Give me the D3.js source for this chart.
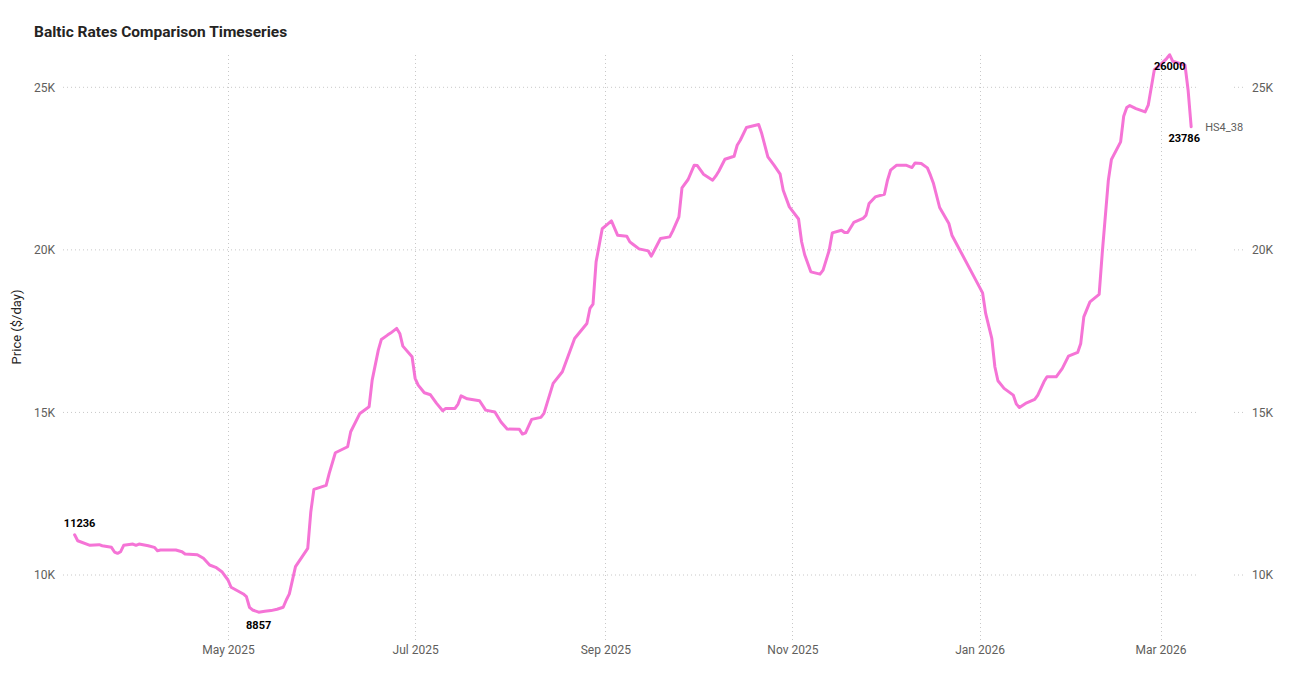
<!DOCTYPE html>
<html><head><meta charset="utf-8">
<script src="https://cdn.jsdelivr.net/npm/d3@7"></script>
<style>
body{margin:0;background:#fff;}
text{font-family:Roboto, "Noto Sans", sans-serif;}
</style>
</head><body>
<svg id="chart" width="1289" height="674"></svg>
<script>
const chartTitle = "Baltic Rates Comparison Timeseries";
const yAxisTitle = "Price ($/day)";
const seriesName = "HS4_38";
const yTickValues = [10000, 15000, 20000, 25000];
const xTickDates = ["2025-05-01","2025-07-01","2025-09-01","2025-11-01","2026-01-01","2026-03-01"];

const dates = [
"2025-03-12","2025-03-13","2025-03-17","2025-03-20","2025-03-21","2025-03-24","2025-03-25","2025-03-26","2025-03-27","2025-03-28",
"2025-03-31","2025-04-01","2025-04-02","2025-04-05","2025-04-07","2025-04-08","2025-04-09","2025-04-14","2025-04-16","2025-04-17",
"2025-04-21","2025-04-23","2025-04-25","2025-04-27","2025-04-29","2025-05-01","2025-05-02","2025-05-06","2025-05-07","2025-05-08",
"2025-05-09","2025-05-11","2025-05-13","2025-05-15","2025-05-17","2025-05-19","2025-05-20","2025-05-21","2025-05-23","2025-05-27",
"2025-05-28","2025-05-29","2025-06-02","2025-06-03","2025-06-05","2025-06-09","2025-06-10","2025-06-13","2025-06-16","2025-06-17",
"2025-06-19","2025-06-20","2025-06-22","2025-06-23","2025-06-25","2025-06-26","2025-06-27","2025-06-30","2025-07-01","2025-07-02",
"2025-07-04","2025-07-06","2025-07-08","2025-07-10","2025-07-11","2025-07-14","2025-07-15","2025-07-16","2025-07-18","2025-07-22",
"2025-07-24","2025-07-27","2025-07-29","2025-07-31","2025-08-04","2025-08-05","2025-08-06","2025-08-08","2025-08-11","2025-08-12",
"2025-08-13","2025-08-15","2025-08-18","2025-08-22","2025-08-26","2025-08-27","2025-08-28","2025-08-29","2025-08-31","2025-09-01",
"2025-09-03","2025-09-05","2025-09-08","2025-09-09","2025-09-10","2025-09-12","2025-09-15","2025-09-16","2025-09-19","2025-09-22",
"2025-09-23","2025-09-25","2025-09-26","2025-09-28","2025-09-30","2025-10-01","2025-10-03","2025-10-06","2025-10-07","2025-10-08",
"2025-10-10","2025-10-13","2025-10-14","2025-10-15","2025-10-17","2025-10-21","2025-10-22","2025-10-24","2025-10-26","2025-10-28",
"2025-10-29","2025-10-31","2025-11-03","2025-11-04","2025-11-05","2025-11-07","2025-11-10","2025-11-11","2025-11-13","2025-11-14",
"2025-11-17","2025-11-18","2025-11-19","2025-11-21","2025-11-24","2025-11-25","2025-11-26","2025-11-28","2025-12-01","2025-12-02",
"2025-12-03","2025-12-05","2025-12-08","2025-12-10","2025-12-11","2025-12-13","2025-12-15","2025-12-16","2025-12-17","2025-12-19",
"2025-12-22","2025-12-23","2026-01-02","2026-01-03","2026-01-05","2026-01-06","2026-01-07","2026-01-09","2026-01-12","2026-01-13",
"2026-01-14","2026-01-16","2026-01-19","2026-01-20","2026-01-22","2026-01-23","2026-01-26","2026-01-28","2026-01-30","2026-02-02",
"2026-02-03","2026-02-04","2026-02-06","2026-02-09","2026-02-10","2026-02-12","2026-02-13","2026-02-16","2026-02-17","2026-02-18",
"2026-02-19","2026-02-21","2026-02-24","2026-02-25","2026-02-27","2026-03-01","2026-03-03","2026-03-04","2026-03-05","2026-03-09",
"2026-03-10","2026-03-11"
];
const values = [
11236,11054,10913,10932,10900,10851,10707,10666,10716,10913,
10953,10913,10953,10900,10851,10747,10768,10768,10716,10646,
10625,10513,10307,10236,10101,9846,9622,9416,9334,9007,
8924,8857,8884,8905,8946,9007,9230,9420,10256,10820,
11946,12634,12757,13126,13760,13944,14405,14970,15174,15994,
16917,17245,17378,17440,17584,17430,17040,16711,16050,15840,
15604,15543,15278,15051,15124,15124,15257,15512,15419,15358,
15072,15011,14703,14488,14479,14334,14374,14786,14848,14970,
15278,15892,16250,17276,17737,18198,18331,19631,20650,20728,
20891,20452,20421,20246,20175,20031,19969,19806,20350,20400,
20584,21014,21906,22164,22604,22594,22327,22143,22266,22419,
22788,22880,23218,23372,23762,23854,23577,22859,22604,22327,
21835,21322,20950,20250,19850,19324,19253,19376,19990,20522,
20605,20533,20533,20842,20965,21066,21426,21629,21712,22143,
22450,22604,22604,22532,22675,22655,22522,22297,22041,21303,
20811,20452,18678,18044,17276,16404,15973,15740,15533,15257,
15154,15278,15401,15533,15942,16096,16096,16354,16732,16846,
17122,17940,18401,18629,19889,22143,22779,23321,24110,24376,
24438,24346,24243,24448,25545,25699,25884,26000,25800,25678,
24910,23786
];

const parse = d3.utcParse("%Y-%m-%d");
const data = dates.map((d, i) => ({date: parse(d), value: values[i]}));

const svg = d3.select("#chart");
const x = d3.scaleUtc()
  .domain([parse("2025-05-01"), parse("2026-03-01")])
  .range([228, 1160.5]);
const y = d3.scaleLinear()
  .domain([10000, 25000])
  .range([575, 87.3]);

const gridColor = "#c8c8c8";
const axisText = "#605E5C";

// horizontal gridlines
const hg = svg.append("g");
yTickValues.forEach(v => {
  hg.append("line").attr("x1", 63).attr("x2", 1198).attr("y1", y(v)).attr("y2", y(v))
    .attr("stroke", gridColor).attr("stroke-width", 1).attr("stroke-dasharray", "1,3");
  hg.append("line").attr("x1", 1234).attr("x2", 1246).attr("y1", y(v)).attr("y2", y(v))
    .attr("stroke", gridColor).attr("stroke-width", 1).attr("stroke-dasharray", "1,3");
});

// vertical gridlines
const xt = xTickDates.map(parse);
svg.append("g").selectAll("line").data(xt).join("line")
  .attr("x1", d => Math.round(x(d)) + 0.5).attr("x2", d => Math.round(x(d)) + 0.5)
  .attr("y1", 55).attr("y2", 642)
  .attr("stroke", gridColor).attr("stroke-width", 1).attr("stroke-dasharray", "1,3");

// axes (labels only)
const fmtK = v => d3.format("d")(v / 1000) + "K";
const yLeft = d3.axisLeft(y).tickValues(yTickValues).tickFormat(fmtK).tickSize(0).tickPadding(0);
const gL = svg.append("g").attr("transform", "translate(55,0)").call(yLeft);
const yRight = d3.axisRight(y).tickValues(yTickValues).tickFormat(fmtK).tickSize(0).tickPadding(0);
const gR = svg.append("g").attr("transform", "translate(1252,0)").call(yRight);
const xAxis = d3.axisBottom(x).tickValues(xt).tickFormat(d3.utcFormat("%b %Y")).tickSize(0).tickPadding(0);
const gX = svg.append("g").attr("transform", "translate(0,645)").call(xAxis);
[gL, gR, gX].forEach(g => {
  g.select(".domain").remove();
  g.selectAll("text").attr("fill", axisText).style("font-size", "12px").style("font-family", "Roboto, sans-serif");
});

// line
const line = d3.line().x(d => x(d.date)).y(d => y(d.value));
svg.append("path").datum(data)
  .attr("fill", "none").attr("stroke", "#F574D6").attr("stroke-width", 3)
  .attr("stroke-linejoin", "round").attr("stroke-linecap", "round")
  .attr("d", line);

// data labels
const first = data[0], last = data[data.length - 1];
const minD = data.reduce((a, b) => b.value < a.value ? b : a);
const maxD = data.reduce((a, b) => b.value > a.value ? b : a);
const labels = [
  {d: first, dx: 5, dy: -8},
  {d: minD, dx: 0, dy: 17},
  {d: maxD, dx: 0, dy: 15},
  {d: last, dx: -7, dy: 15}
];
svg.append("g").selectAll("text").data(labels).join("text")
  .attr("x", l => x(l.d.date) + l.dx)
  .attr("y", l => y(l.d.value) + l.dy)
  .attr("text-anchor", "middle")
  .attr("fill", "#000").style("font-size", "11px").style("font-weight", "bold")
  .text(l => l.d.value);

// series label
svg.append("text").attr("x", x(last.date) + 14).attr("y", y(last.value) + 4)
  .attr("fill", axisText).style("font-size", "11px").text(seriesName);

// title
svg.append("text").attr("x", 34).attr("y", 37).attr("fill", "#252423")
  .style("font-size", "15.5px").style("font-weight", "bold").text(chartTitle);

// y axis title
svg.append("text").attr("transform", "translate(21,327) rotate(-90)")
  .attr("text-anchor", "middle").attr("fill", "#252423").style("font-size", "13px").text(yAxisTitle);
</script>
</body></html>
